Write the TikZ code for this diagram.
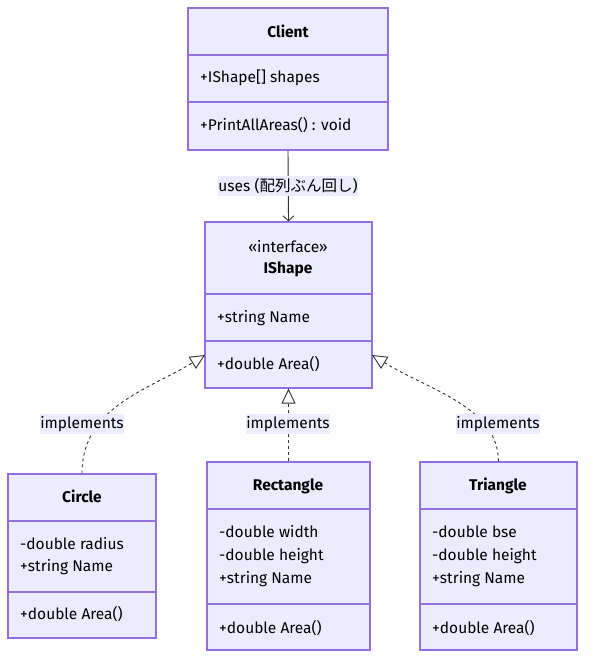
\documentclass[tikz,border=0pt]{standalone}
\usepackage{fontspec}
\setmainfont{Fira Sans}
\newfontfamily\jpfont{Noto Sans CJK JP}
\usetikzlibrary{arrows.meta}
\definecolor{classfill}{HTML}{ECECFF}
\definecolor{classline}{HTML}{9370DB}
\definecolor{edgeline}{HTML}{333333}
\begin{document}
\begin{tikzpicture}[x=1pt, y=-1pt,
    font=\fontsize{15.5}{18}\selectfont,
    classbox/.style={rectangle, draw=classline, fill=classfill, line width=1.2pt, inner sep=0pt},
    divider/.style={draw=classline, line width=1.2pt},
    title/.style={font=\fontsize{15.5}{18}\selectfont\bfseries, text=black},
    member/.style={anchor=west, text=black, inner sep=0pt},
    edgelabel/.style={fill=classfill, inner xsep=0.5pt, inner ysep=2.5pt, text=black},
    uses/.style={draw=edgeline, line width=0.9pt, -{Straight Barb[length=5pt, width=11pt]}},
    realize/.style={draw=edgeline, line width=0.9pt, dash pattern=on 3pt off 3pt,
        -{Triangle[open, fill=white, length=15pt, width=14pt]}}
]
    \useasboundingbox (0,0) rectangle (593,668);

    % Client
    \node[classbox, minimum width=200pt, minimum height=142pt] (client) at (288,79) {};
    \draw[divider] (188,55) -- (388,55);
    \draw[divider] (188,102) -- (388,102);
    \node[title] (clientname) at (288,31) {Client};
    \node[member] (clientattr) at (200,78) {+IShape[] shapes};
    \node[member] (clientop) at (200,125) {+PrintAllAreas() : void};

    % IShape
    \node[classbox, minimum width=167pt, minimum height=166pt] (ishape) at (288.5,305) {};
    \draw[divider] (205,294) -- (372,294);
    \draw[divider] (205,341) -- (372,341);
    \node[text=black] (stereo) at (288,247) {«interface»};
    \node[title] (ishapename) at (288,269) {IShape};
    \node[member] (ishapeattr) at (217,318) {+string Name};
    \node[member] (ishapeop) at (217,364) {+double Area()};
    \coordinate (ileft) at (205,355);
    \coordinate (iright) at (372,355);

    % Circle
    \node[classbox, minimum width=148pt, minimum height=164pt] (circle) at (82,556) {};
    \draw[divider] (8,521) -- (156,521);
    \draw[divider] (8,592) -- (156,592);
    \node[title] (circlename) at (82,496) {Circle};
    \node[member] (circleattr1) at (20,544) {-double radius};
    \node[member] (circleattr2) at (20,567) {+string Name};
    \node[member] (circleop) at (20,614) {+double Area()};

    % Rectangle
    \node[classbox, minimum width=163pt, minimum height=188pt] (rect) at (288.5,556) {};
    \draw[divider] (207,509) -- (370,509);
    \draw[divider] (207,604) -- (370,604);
    \node[title] (rectname) at (288,486) {Rectangle};
    \node[member] (rectattr1) at (219,532) {-double width};
    \node[member] (rectattr2) at (219,556) {-double height};
    \node[member] (rectattr3) at (219,579) {+string Name};
    \node[member] (rectop) at (219,628) {+double Area()};

    % Triangle
    \node[classbox, minimum width=157pt, minimum height=188pt] (tri) at (498.5,556) {};
    \draw[divider] (420,509) -- (577,509);
    \draw[divider] (420,604) -- (577,604);
    \node[title] (triname) at (498,486) {Triangle};
    \node[member] (triattr1) at (432,532) {-double bse};
    \node[member] (triattr2) at (432,556) {-double height};
    \node[member] (triattr3) at (432,579) {+string Name};
    \node[member] (triop) at (432,628) {+double Area()};

    % relations
    \draw[uses] (client.south) -- (ishape.north);
    \draw[realize] (circle.north) .. controls (82,407) and (148,390) .. (ileft);
    \draw[realize] (rect.north) -- (ishape.south);
    \draw[realize] (tri.north) .. controls (498,407) and (429,390) .. (iright);

    % labels
    \node[edgelabel] (useslabel) at (288,186) {uses ({\jpfont 配列ぶん回し})};
    \node[edgelabel] (impl1) at (82,424) {implements};
    \node[edgelabel] (impl2) at (288,424) {implements};
    \node[edgelabel] (impl3) at (498,424) {implements};
\end{tikzpicture}
\end{document}
